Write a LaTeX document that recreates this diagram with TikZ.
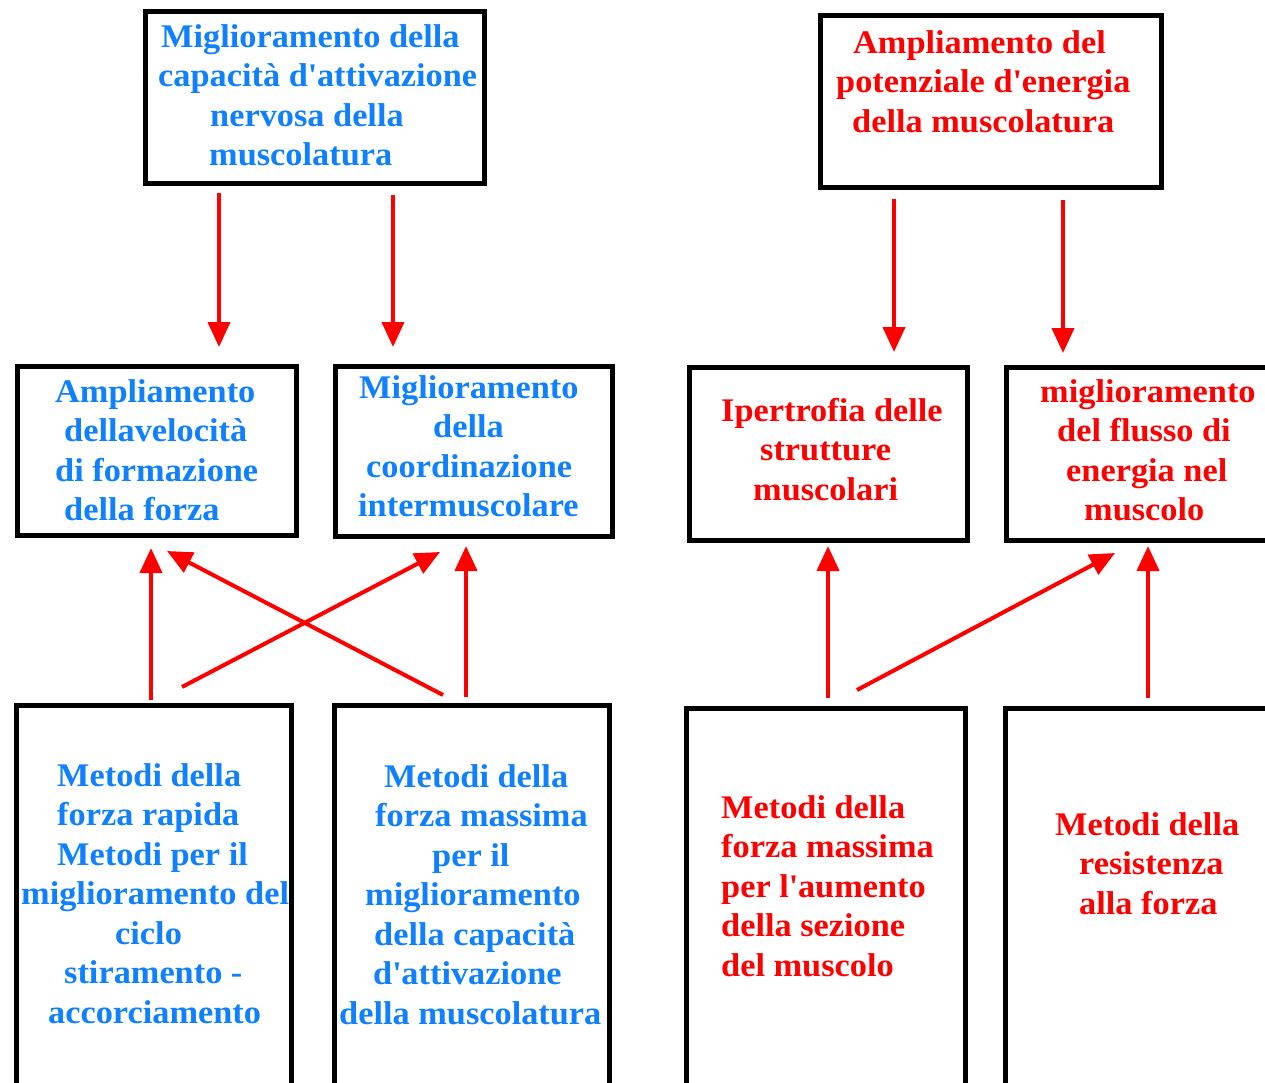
\documentclass[tikz,border=0pt]{standalone}
\usepackage{fontspec}
\setmainfont{Liberation Serif}[FakeStretch=1.04]
\usetikzlibrary{arrows.meta}
\definecolor{tblue}{RGB}{15,128,255}
\definecolor{tred}{RGB}{255,0,0}
\begin{document}
\begin{tikzpicture}[x=1pt,y=-1pt,
  box/.style={draw=black, line width=5.5pt, inner sep=0pt, outer sep=0pt},
  txt/.style={inner sep=0pt, anchor=base west, align=left, font=\fontsize{33}{39.5}\selectfont\bfseries},
  arr/.style={draw=tred, line width=4pt, -{Triangle[length=25pt,width=22pt]}}]
\useasboundingbox (0,0) rectangle (1265,1082);
\fill[white] (0,0) rectangle (1265,1082);
\clip (0,0) rectangle (1265,1082);
% boxes
\node[box, minimum width=339pt, minimum height=172pt] (t1) at (315,97.5) {};
\node[box, minimum width=341pt, minimum height=172pt] (t2) at (991,101.5) {};
\node[box, minimum width=279pt, minimum height=169pt] (a) at (157,451) {};
\node[box, minimum width=277pt, minimum height=170pt] (b) at (474,451.5) {};
\node[box, minimum width=278pt, minimum height=173pt] (c) at (828.5,454) {};
\node[box, minimum width=283.5pt, minimum height=173pt] (d) at (1148.25,454) {};
\node[box, minimum width=275pt, minimum height=414.5pt] (e) at (154,912.75) {};
\node[box, minimum width=275pt, minimum height=414.5pt] (f) at (472,912.75) {};
\node[box, minimum width=279pt, minimum height=411.5pt] (g) at (826,914.25) {};
\node[box, minimum width=284.5pt, minimum height=411.5pt] (h) at (1147.75,914.25) {};
% texts (anchored at the baseline of their last line)
\node[txt, text=tblue] (t1t) at (158,165.5) {\hspace*{3pt}Miglioramento della\\capacità d\textquotesingle attivazione\\\hspace*{52pt}nervosa della\\\hspace*{51pt}muscolatura};
\node[txt, text=tred] (t2t) at (836,132) {\hspace*{17pt}Ampliamento del\\potenziale d\textquotesingle energia\\\hspace*{16pt}della muscolatura};
\node[txt, text=tblue] (at) at (55,520.5) {Ampliamento\\\hspace*{9pt}dellavelocità\\di formazione\\\hspace*{9pt}della forza};
\node[txt, text=tblue] (bt) at (358,516.5) {\hspace*{1pt}Miglioramento\\\hspace*{75pt}della\\\hspace*{8pt}coordinazione\\intermuscolare};
\node[txt, text=tred] (ct) at (721,500) {Ipertrofia delle\\\hspace*{39pt}strutture\\\hspace*{32pt}muscolari};
\node[txt, text=tred] (dt) at (1040,520.5) {miglioramento\\\hspace*{17pt}del flusso di\\\hspace*{26pt}energia nel\\\hspace*{44pt}muscolo};
\node[txt, text=tblue] (et) at (21,1023) {\hspace*{36pt}Metodi della\\\hspace*{36pt}forza rapida\\\hspace*{36pt}Metodi per il\\miglioramento del\\\hspace*{94pt}ciclo\\\hspace*{43pt}stiramento -\\\hspace*{27pt}accorciamento};
\node[txt, text=tblue] (ft) at (339,1024) {\hspace*{45pt}Metodi della\\\hspace*{36pt}forza massima\\\hspace*{93pt}per il\\\hspace*{26pt}miglioramento\\\hspace*{35pt}della capacità\\\hspace*{34pt}d\textquotesingle attivazione\\della muscolatura};
\node[txt, text=tred] (gt) at (721,976) {Metodi della\\forza massima\\per l\textquotesingle aumento\\della sezione\\del muscolo};
\node[txt, text=tred] (ht) at (1055,914) {Metodi della\\\hspace*{24pt}resistenza\\\hspace*{24pt}alla forza};
% arrows
\draw[arr] ([shift={(-96,9.5)}]t1.south) -- ([shift={(62,-19.5)}]a.north);
\draw[arr] ([shift={(78,11.5)}]t1.south) -- ([shift={(-81,-19.5)}]b.north);
\draw[arr] ([shift={(-97,11.5)}]t2.south) -- ([shift={(65.5,-15.5)}]c.north);
\draw[arr] ([shift={(72,12.5)}]t2.south) -- ([shift={(-85.25,-14.5)}]d.north);
\draw[arr] ([shift={(-3,-5.5)}]e.north) -- ([shift={(-6,12.5)}]a.south);
\draw[arr] ([shift={(28,-18.5)}]e.north) -- ([shift={(-34,15.5)}]b.south);
\draw[arr] ([shift={(-29,-10.5)}]f.north) -- ([shift={(10,15.5)}]a.south);
\draw[arr] ([shift={(-6,-8.5)}]f.north) -- ([shift={(-8,9.5)}]b.south);
\draw[arr] ([shift={(2,-10.5)}]g.north) -- ([shift={(-0.5,5.5)}]c.south);
\draw[arr] ([shift={(31,-18.5)}]g.north) -- ([shift={(-33.25,12.5)}]d.south);
\draw[arr] ([shift={(0.25,-10.5)}]h.north) -- ([shift={(-0.25,5.5)}]d.south);
\end{tikzpicture}
\end{document}
